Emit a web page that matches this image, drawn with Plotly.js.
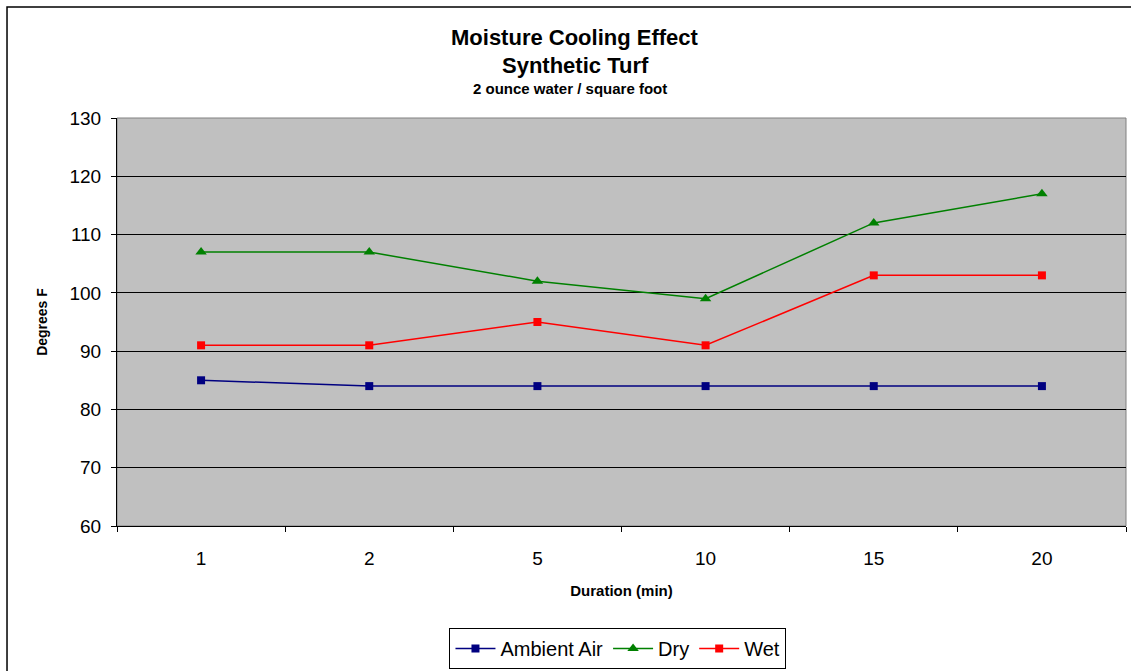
<!DOCTYPE html>
<html><head><meta charset="utf-8">
<script src="https://cdn.plot.ly/plotly-3.0.1.min.js"></script>
<style>html,body{margin:0;padding:0;background:#fff}#chart{width:1131px;height:671px}</style>
</head><body><div id="chart"></div>
<script>
const durations = ['1','2','5','10','15','20'];
const ambientAir = [85, 84, 84, 84, 84, 84];
const dry = [107, 107, 102, 99, 112, 117];
const wet = [91, 91, 95, 91, 103, 103];

const F = 'Arial, "Liberation Sans", sans-serif';
const traces = [
  {x: durations, y: ambientAir, name: 'Ambient Air', type: 'scatter', mode: 'lines+markers',
   line: {color: '#000080', width: 1.5}, marker: {symbol: 'square', size: 8, color: '#000080'}},
  {x: durations, y: dry, name: 'Dry', type: 'scatter', mode: 'lines+markers',
   line: {color: '#008000', width: 1.5}, marker: {symbol: 'triangle-up', size: 10, color: '#008000'}},
  {x: durations, y: wet, name: 'Wet', type: 'scatter', mode: 'lines+markers',
   line: {color: '#FF0000', width: 1.5}, marker: {symbol: 'square', size: 8, color: '#FF0000'}}
];
const layout = {
  width: 1131, height: 671,
  margin: {l: 117, r: 5, t: 118, b: 145, autoexpand: false},
  paper_bgcolor: '#ffffff', plot_bgcolor: '#C0C0C0',
  font: {family: F, color: '#000'},
  showlegend: true,
  legend: {orientation: 'h', x: 0.4965, xanchor: 'center', yref: 'container', y: (671-628)/671, yanchor: 'top',
    bordercolor: '#000', borderwidth: 1, bgcolor: '#fff', font: {size: 20, family: F},
    itemwidth: 40, traceorder: 'normal', tracegroupgap: 0},
  xaxis: {type: 'category', tickson: 'boundaries', ticks: 'outside', ticklen: 5, tickcolor: '#000',
    showline: true, linecolor: '#000', linewidth: 1, showgrid: false, zeroline: false,
    tickfont: {size: 19, family: F}, range: [-0.5, 5.5], ticklabelstandoff: 15,
    title: {text: '<b>Duration (min)</b>', font: {size: 15, family: F}, standoff: 17}},
  yaxis: {range: [60, 130], dtick: 10, ticks: 'outside', ticklen: 5, tickcolor: '#000',
    showline: true, linecolor: '#000', linewidth: 1, showgrid: true, gridcolor: '#000', gridwidth: 1,
    zeroline: false, tickfont: {size: 19, family: F}, ticklabelstandoff: 6,
    title: {text: '<b>Degrees F</b>', font: {size: 14, family: F}, standoff: 18}},
  shapes: [
    {type: 'rect', xref: 'paper', yref: 'paper', x0: 0, x1: 1, y0: 0, y1: 1,
     line: {color: '#808080', width: 1}, fillcolor: 'rgba(0,0,0,0)', layer: 'below'},
    {type: 'rect', xref: 'paper', yref: 'paper', x0: -0.109, x1: 1.05, y0: -0.5, y1: 1.272,
     line: {color: '#000', width: 1.5}, fillcolor: 'rgba(0,0,0,0)'}
  ],
  annotations: [
    {text: '<b>Moisture Cooling Effect</b>', xref: 'paper', yref: 'paper', x: 0.454, y: (526-37)/408,
     showarrow: false, font: {size: 22, family: F}, xanchor: 'center', yanchor: 'middle'},
    {text: '<b>Synthetic Turf</b>', xref: 'paper', yref: 'paper', x: 0.454, y: (526-65)/408,
     showarrow: false, font: {size: 22, family: F}, xanchor: 'center', yanchor: 'middle'},
    {text: '<b>2 ounce water / square foot</b>', xref: 'paper', yref: 'paper', x: 0.449, y: (526-88)/408,
     showarrow: false, font: {size: 15, family: F}, xanchor: 'center', yanchor: 'middle'}
  ]
};
Plotly.newPlot('chart', traces, layout, {displayModeBar: false});
</script>
</body></html>
